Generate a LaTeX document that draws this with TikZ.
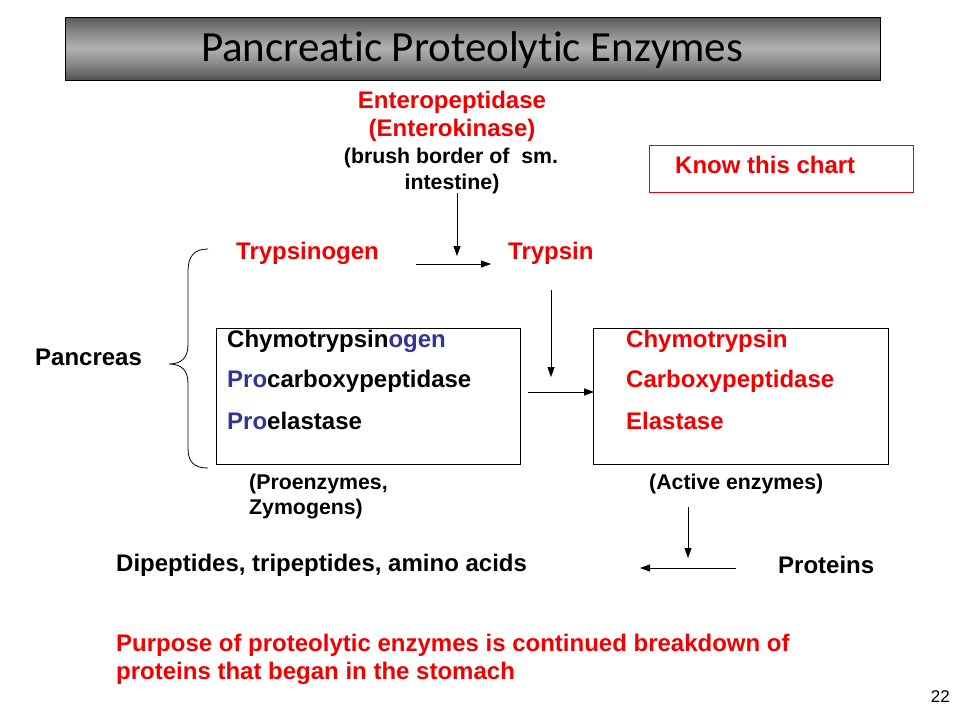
\documentclass[tikz,border=0pt]{standalone}
\usepackage{fontspec}
\setmainfont{Liberation Sans}
\newfontfamily\titlefont[Ligatures=NoCommon]{Carlito}
\usetikzlibrary{arrows.meta}
\definecolor{redt}{RGB}{240,0,0}
\definecolor{bluet}{RGB}{51,51,153}
\tikzset{
  txt/.style={inner sep=0pt, anchor=west, font=\fontsize{24}{28}\selectfont\bfseries},
  smtxt/.style={inner sep=0pt, anchor=west, font=\fontsize{21.3}{25}\selectfont\bfseries},
  arr/.style={-{Triangle[length=10pt,width=7pt]}, line width=0.8pt},
  boxline/.style={draw=black, line width=0.8pt},
}
\begin{document}
\begin{tikzpicture}[x=1pt,y=-1pt]
\useasboundingbox (0,0) rectangle (960,720);
% title background gradient (dark edges, light middle)
\foreach \i in {0,...,62}{
  \pgfmathtruncatemacro{\v}{80+98*(1-abs(2*(\i+0.5)/63-1))^0.8}
  \fill[color={rgb,255:red,\v;green,\v;blue,\v}] (65,17+\i) rectangle (880,18.2+\i);
}
\draw[line width=0.8pt] (65,17) rectangle (880,80);
\node[inner sep=0pt, font=\titlefont\fontsize{43}{50}\selectfont] (title) at (472,50) {Pancreatic Proteolytic Enzymes};
% enteropeptidase
\node[txt, anchor=center, text=redt] (ent) at (452,102) {Enteropeptidase};
\node[txt, anchor=center, text=redt] (enk) at (452,130) {(Enterokinase)};
\node[smtxt, anchor=center] (brush) at (451,158) {(brush border of\ \ sm.};
\node[smtxt, anchor=center] (intest) at (452,184) {intestine)};
% know box
\node[draw=redt, line width=0.8pt, minimum width=264pt, minimum height=47pt, inner sep=0pt] (know) at (781,168.5) {};
\node[txt, text=redt] (knowt) at (675,165) {Know this chart};
% trypsinogen
\node[txt, text=redt] (tgen) at (236,253) {Trypsinogen};
\node[txt, text=redt] (tryp) at (508,253) {Trypsin};
\coordinate (a1s) at (457,193);
\coordinate (a1e) at (457,256);
\draw[arr] (a1s) -- (a1e);
\coordinate (a2s) at (416,264);
\coordinate (a2e) at (491,264);
\draw[arr] (a2s) -- (a2e);
\coordinate (a3s) at (551,290);
\coordinate (a3e) at (551,377);
\draw[arr] (a3s) -- (a3e);
% boxes
\node[boxline, minimum width=304pt, minimum height=136pt, inner sep=0pt] (lbox) at (368,396) {};
\node[boxline, minimum width=295pt, minimum height=136pt, inner sep=0pt] (rbox) at (740.5,396) {};
\node[txt] (l1) at (227,341) {Chymotrypsin\textcolor{bluet}{ogen}};
\node[txt] (l2) at (227,381) {\textcolor{bluet}{Pro}carboxypeptidase};
\node[txt] (l3) at (227,421) {\textcolor{bluet}{Pro}elastase};
\node[txt, text=redt] (r1) at (626,341) {Chymotrypsin};
\node[txt, text=redt] (r2) at (626,381) {Carboxypeptidase};
\node[txt, text=redt] (r3) at (626,421) {Elastase};
\coordinate (a4s) at (528,392);
\coordinate (a4e) at (594,392);
\draw[arr] (a4s) -- (a4e);
% pancreas and brace
\node[txt] (panc) at (35,357) {Pancreas};
\draw[line width=0.8pt] (208,249) .. controls (194,249) and (188,256) .. (188,272) -- (188,345) .. controls (188,358) and (181,364) .. (169,364) .. controls (181,364) and (188,370) .. (188,383) -- (188,448) .. controls (188,462) and (194,468) .. (208,468);
% labels under boxes
\node[smtxt] (pro1) at (249,484) {(Proenzymes,};
\node[smtxt] (pro2) at (249,509) {Zymogens)};
\node[smtxt] (act) at (649,484) {(Active enzymes)};
\coordinate (a5s) at (688,507);
\coordinate (a5e) at (688,558);
\draw[arr] (a5s) -- (a5e);
\coordinate (a6s) at (736,568);
\coordinate (a6e) at (640,568);
\draw[arr] (a6s) -- (a6e);
\node[txt] (dip) at (116,565) {Dipeptides, tripeptides, amino acids};
\node[txt] (prot) at (778,565) {Proteins};
% purpose
\node[txt, text=redt] (p1) at (116,645) {Purpose of proteolytic enzymes is continued breakdown of};
\node[txt, text=redt] (p2) at (116,673) {proteins that began in the stomach};
\node[inner sep=0pt, anchor=east, font=\fontsize{17}{20}\selectfont] (num) at (950,697) {22};
\end{tikzpicture}
\end{document}
